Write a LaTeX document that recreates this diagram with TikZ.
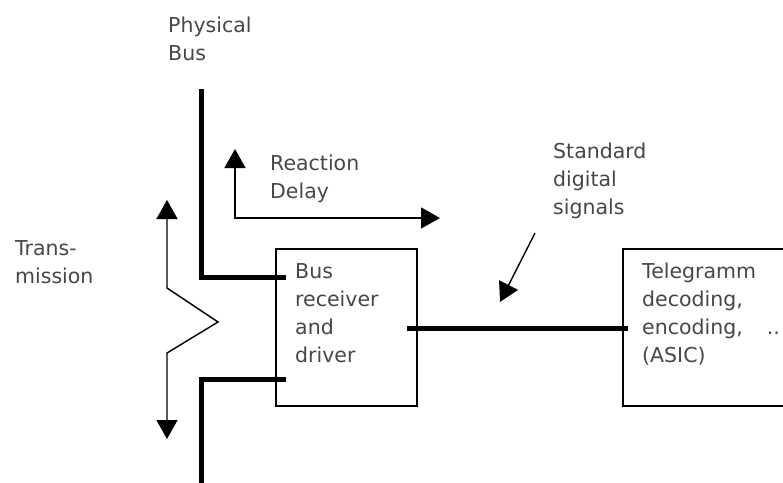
\documentclass[tikz,border=0pt]{standalone}
\usepackage{fontspec}
\setmainfont{DejaVu Sans}
\usetikzlibrary{arrows.meta}
\begin{document}
\begin{tikzpicture}[x=1pt,y=-1pt,
  lbl/.style={anchor=base west, inner sep=0pt, align=left, text=black!72,
    font=\fontsize{20.5}{28}\selectfont},
  boxnode/.style={draw, line width=1.6pt, inner sep=0pt, anchor=north west},
  busline/.style={line width=5pt, line join=miter},
  thinline/.style={line width=1.4pt, line join=miter},
  tipend/.style={-{Triangle[length=19pt,width=21pt]}},
  tipboth/.style={{Triangle[length=19pt,width=21pt]}-{Triangle[length=19pt,width=21pt]}}]
\useasboundingbox (0,0) rectangle (783,482);
\clip (0,0) rectangle (783,482);
\fill[white] (0,0) rectangle (783,482);

% boxes
\node[boxnode, minimum width=141pt, minimum height=157pt] (rx) at (275,248) {};
\node[boxnode, minimum width=200pt, minimum height=157pt] (tg) at (622,248) {};

% texts (anchor = baseline of last line)
\node[lbl] (physbus) at (168,60) {Physical\\Bus};
\node[lbl] (trans) at (15,283) {Trans-\\mission};
\node[lbl] (react) at (270,198) {Reaction\\Delay};
\node[lbl] (rxtext) at (295,362) {Bus\\receiver\\and\\driver};
\node[lbl] (std) at (553,214) {Standard\\digital\\signals};
\node[lbl] (tgtext) at (642,362) {Telegramm\\decoding,\\encoding,\hspace{24pt}..\\(ASIC)};

% physical bus
\coordinate (bustop) at (201,89);
\coordinate (busbot) at (201,490);
\draw[busline] (bustop) |- ([shift={(11,29)}]rx.north west);
\draw[busline] ([shift={(11,131)}]rx.north west) -| (busbot);

% link between boxes
\draw[busline] ([shift={(-11,1.5)}]rx.east) -- ([shift={(6,1.5)}]tg.west);

% transmission arrow
\coordinate (t1) at (167,200);
\coordinate (t2) at (167,288);
\coordinate (t3) at (218,322);
\coordinate (t4) at (167,353);
\coordinate (t5) at (167,439);
\draw[thinline, tipboth] (t1) -- (t2) -- (t3) -- (t4) -- (t5);

% reaction delay arrow
\coordinate (r1) at (235,149);
\coordinate (r2) at (235,218);
\coordinate (r3) at (440,218);
\draw[thinline, tipboth] (r1) -- (r2) -- (r3);

% standard digital signals pointer
\coordinate (s1) at (535,233);
\coordinate (s2) at (500,302);
\draw[thinline, tipend] (s1) -- (s2);
\end{tikzpicture}
\end{document}
